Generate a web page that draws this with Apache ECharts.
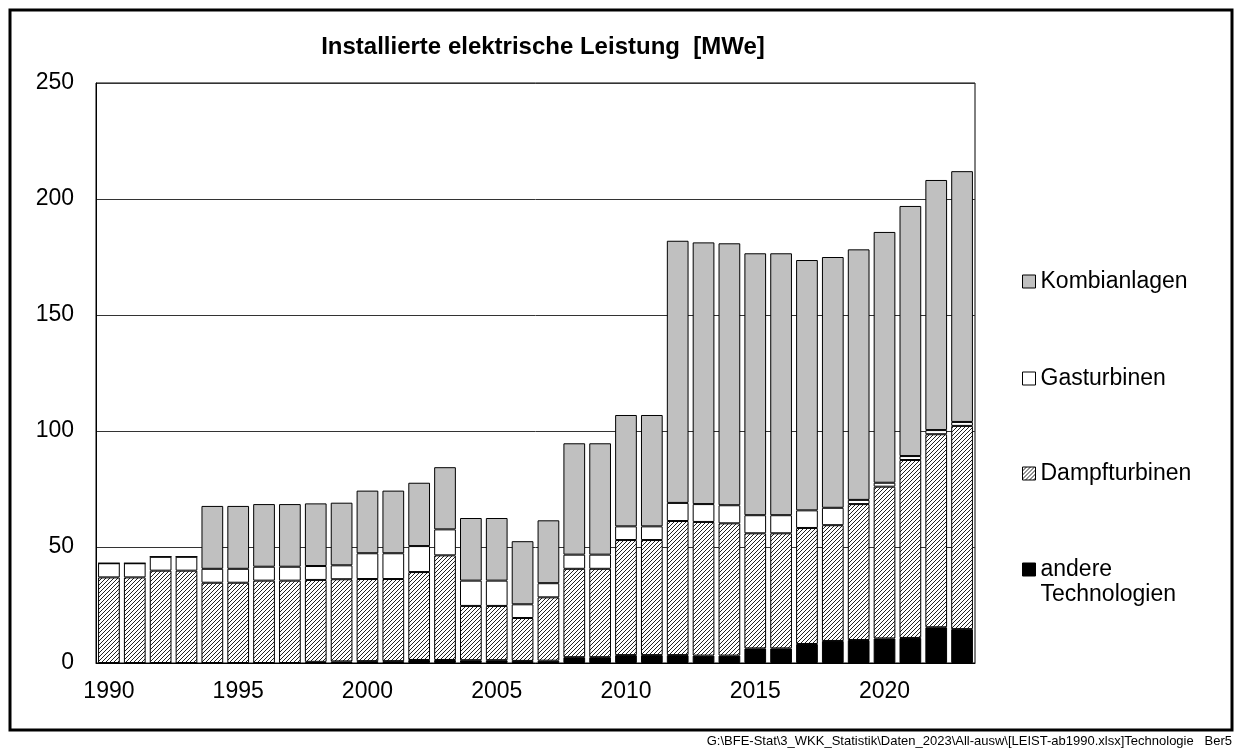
<!DOCTYPE html>
<html>
<head>
<meta charset="utf-8">
<script src="https://cdn.jsdelivr.net/npm/echarts@6/dist/echarts.min.js"></script>
<style>
  html, body { margin: 0; padding: 0; background: #fff; }
  #chart { width: 1240px; height: 751px; }
</style>
</head>
<body>
<div id="chart"></div>
<script>
// Jahre
const years = ['1990','1991','1992','1993','1994','1995','1996','1997','1998','1999',
  '2000','2001','2002','2003','2004','2005','2006','2007','2008','2009',
  '2010','2011','2012','2013','2014','2015','2016','2017','2018','2019',
  '2020','2021','2022','2023'];

// MWe je Technologie (gestapelt)
const andere = [0, 0, 0, 0, 0, 0, 0, 0, 0.5, 0.7,
  0.8, 0.8, 1.3, 1.3, 1.2, 1.2, 0.9, 1.0, 2.5, 2.5,
  3.4, 3.4, 3.4, 3.2, 3.2, 6.3, 6.3, 8.2, 9.5, 9.9,
  10.6, 10.8, 15.4, 14.6];
const dampf = [36.9, 36.9, 39.8, 39.8, 34.6, 34.6, 35.5, 35.5, 35.3, 35.4,
  35.4, 35.4, 37.9, 45.1, 23.4, 23.4, 18.5, 27.3, 38.1, 38.1,
  49.6, 49.6, 57.8, 57.6, 57.0, 49.6, 49.6, 50.0, 49.9, 58.6,
  65.4, 76.7, 83.2, 87.6];
const gas = [6.1, 6.1, 6.0, 6.0, 6.0, 6.0, 6.0, 6.0, 6.0, 6.0,
  11.1, 11.1, 11.2, 11.2, 10.9, 10.9, 5.9, 6.1, 6.1, 6.1,
  5.9, 5.9, 7.8, 7.7, 7.8, 7.8, 7.8, 7.6, 7.5, 1.8,
  1.7, 1.7, 1.8, 1.7];
const kombi = [0, 0, 0, 0, 27.1, 27.1, 27.0, 27.0, 27.0, 27.0,
  27.0, 27.0, 27.3, 26.8, 27.0, 27.0, 27.2, 27.1, 48.0, 48.0,
  48.0, 48.0, 113.0, 112.8, 112.9, 112.9, 112.9, 107.9, 108.1, 108.0,
  108.1, 107.8, 107.8, 108.1];

const yTicks = [0, 50, 100, 150, 200, 250];

const font = "'Liberation Sans', Arial, sans-serif";

// Schraffur für Dampfturbinen
function hatch() {
  const s = 4;
  const c = document.createElement('canvas');
  c.width = s; c.height = s;
  const ctx = c.getContext('2d');
  ctx.fillStyle = '#fff';
  ctx.fillRect(0, 0, s, s);
  ctx.strokeStyle = '#222';
  ctx.lineWidth = 1;
  ctx.beginPath();
  ctx.moveTo(0, s); ctx.lineTo(s, 0);
  ctx.moveTo(-1, 1); ctx.lineTo(1, -1);
  ctx.moveTo(s - 1, s + 1); ctx.lineTo(s + 1, s - 1);
  ctx.stroke();
  return c;
}

const chart = echarts.init(document.getElementById('chart'));

const barStyle = (color) => ({ color: color, borderColor: '#000', borderWidth: 1 });

function legendAt(name, top, fmt) {
  return {
    data: [name],
    left: 1017,
    top: top,
    orient: 'vertical',
    itemWidth: 13,
    itemHeight: 13,
    itemGap: 0,
    icon: 'rect',
    selectedMode: false,
    formatter: fmt || '{name}',
    textStyle: { color: '#000', fontSize: 23, fontFamily: font, lineHeight: 25 },
    itemStyle: { borderColor: '#000', borderWidth: 1 }
  };
}

const option = {
  animation: false,
  title: {
    text: 'Installierte elektrische Leistung  [MWe]',
    left: 538,
    top: 30,
    textAlign: 'center',
    textStyle: { color: '#000', fontSize: 24, fontWeight: 'bold', fontFamily: font }
  },
  grid: {
    left: 96, right: 265, top: 83, bottom: 88,
    show: true, borderColor: '#000', borderWidth: 1
  },
  legend: [
    legendAt('Kombianlagen', 264),
    legendAt('Gasturbinen', 361),
    legendAt('Dampfturbinen', 456),
    legendAt('andere Technologien', 527, '\nandere\nTechnologien')
  ],
  xAxis: {
    type: 'category',
    data: years,
    axisLine: { lineStyle: { color: '#000', width: 1 } },
    axisTick: { show: false },
    axisLabel: {
      interval: (i, v) => Number(v) % 5 === 0,
      color: '#000', fontSize: 23, fontFamily: font, margin: 17
    }
  },
  yAxis: {
    type: 'value',
    min: yTicks[0],
    max: yTicks[yTicks.length - 1],
    interval: 50,
    axisLine: { show: true, lineStyle: { color: '#000', width: 1 } },
    axisTick: { show: false },
    axisLabel: { color: '#000', fontSize: 23, fontFamily: font, margin: 22 },
    splitLine: { lineStyle: { color: '#333', width: 1 } }
  },
  series: [
    { name: 'andere Technologien', type: 'bar', stack: 't', data: andere, barWidth: '84%', itemStyle: barStyle('#000') },
    { name: 'Dampfturbinen', type: 'bar', stack: 't', data: dampf, itemStyle: barStyle({ image: hatch(), repeat: 'repeat' }) },
    { name: 'Gasturbinen', type: 'bar', stack: 't', data: gas, itemStyle: barStyle('#fff') },
    { name: 'Kombianlagen', type: 'bar', stack: 't', data: kombi, itemStyle: barStyle('#c0c0c0') }
  ],
  graphic: [
    {
      type: 'rect',
      shape: { x: 10, y: 10, width: 1222, height: 720 },
      style: { fill: null, stroke: '#000', lineWidth: 3 },
      silent: true
    },
    {
      type: 'text',
      right: 8,
      top: 735,
      style: {
        text: 'G:\\BFE-Stat\\3_WKK_Statistik\\Daten_2023\\All-ausw\\[LEIST-ab1990.xlsx]Technologie   Ber5',
        fill: '#000', fontSize: 13, fontFamily: font
      }
    }
  ]
};

chart.setOption(option);
</script>
</body>
</html>
